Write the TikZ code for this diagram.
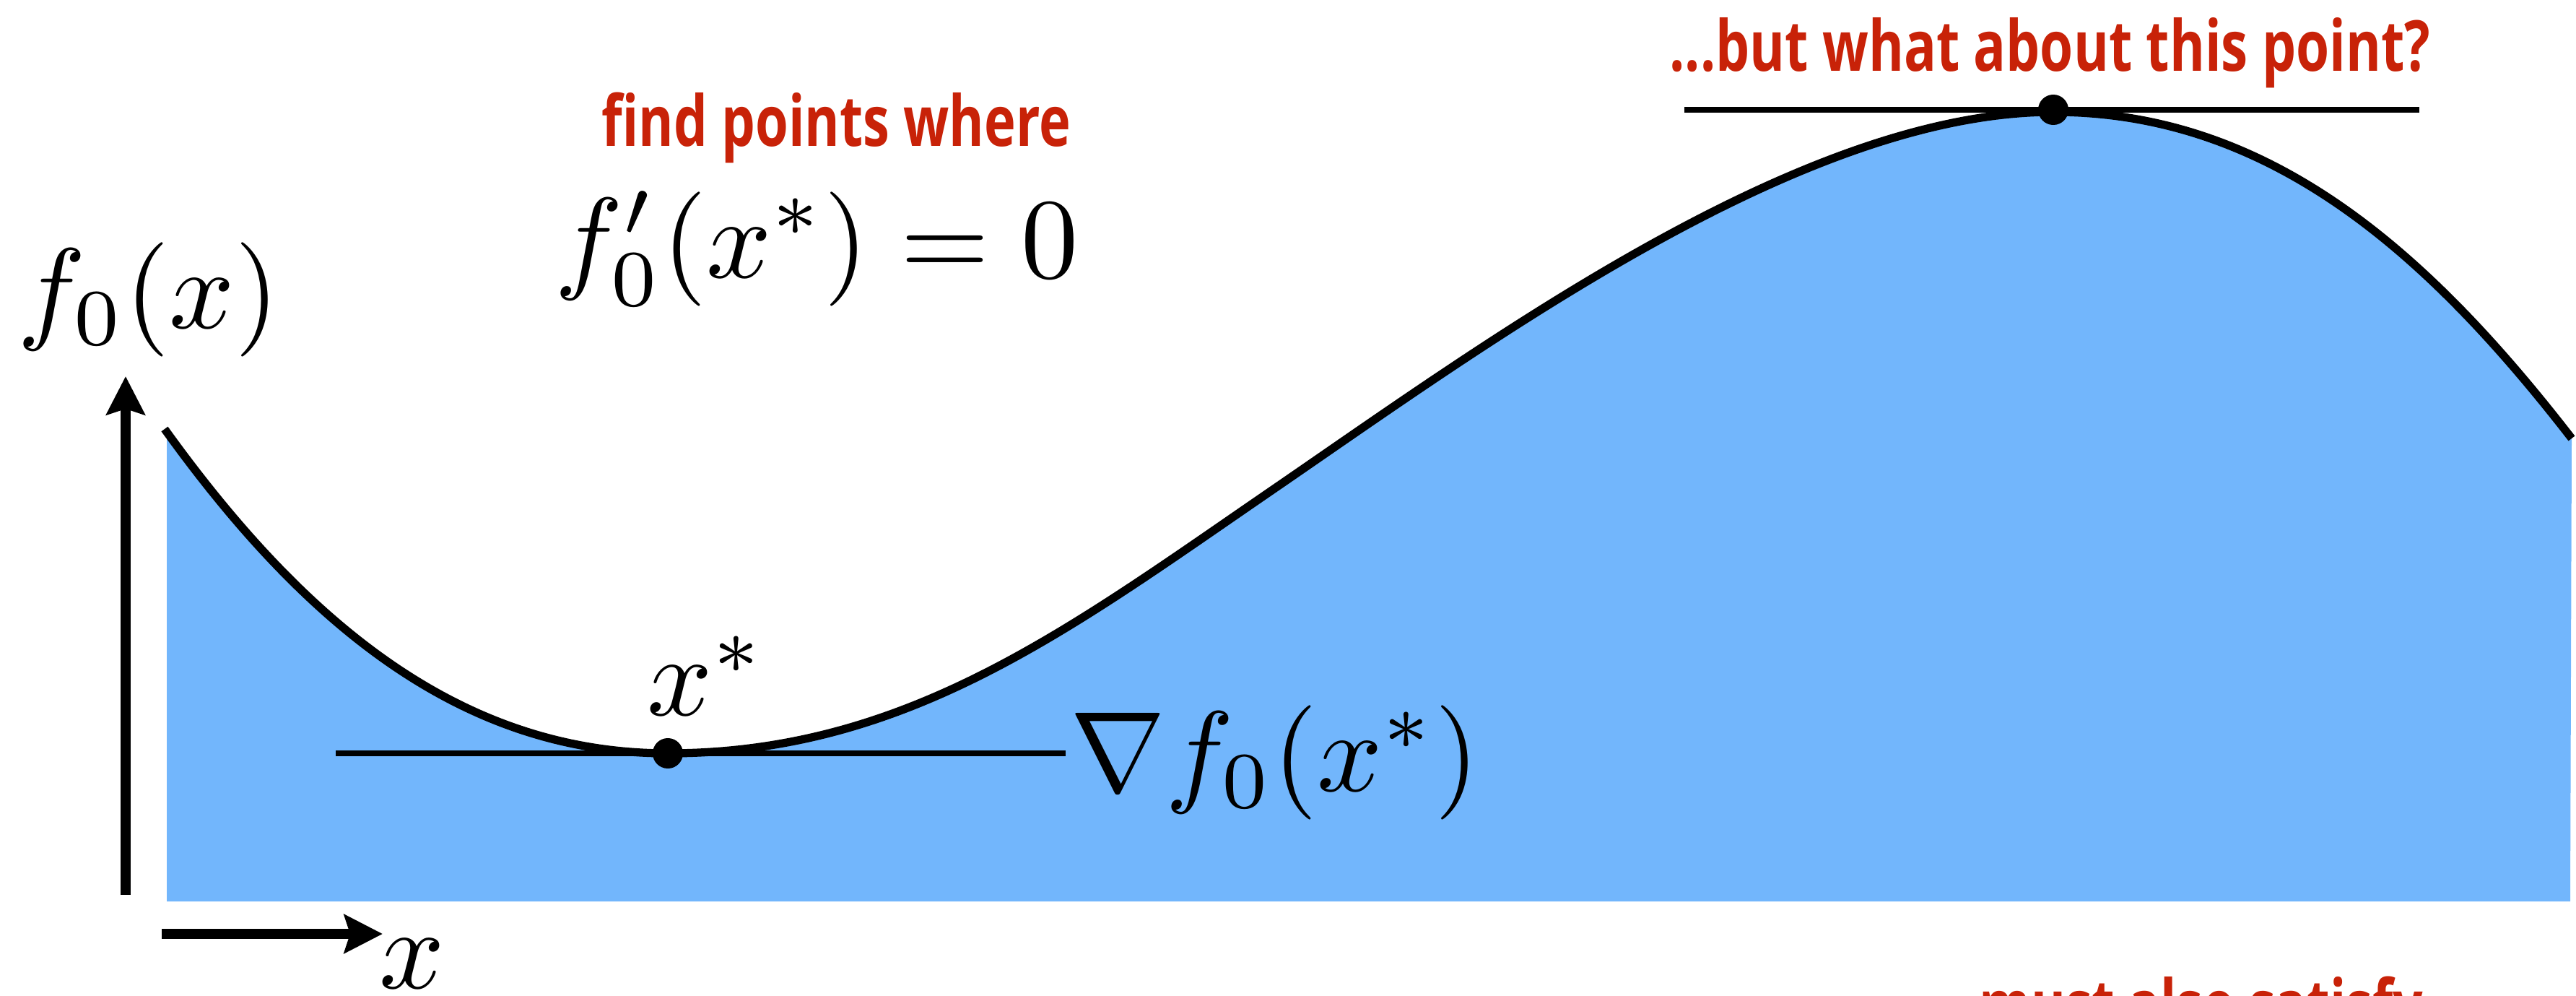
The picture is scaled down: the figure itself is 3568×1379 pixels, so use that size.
\documentclass[tikz,border=0pt]{standalone}
\usepackage{fontspec}
\usepackage{graphicx}
\usetikzlibrary{arrows.meta}
\newfontfamily\redfont{Open Sans}
\definecolor{slidered}{RGB}{200,34,8}
\definecolor{fillblue}{RGB}{114,182,252}
\newcommand{\bigmath}[1]{\scalebox{4.5}{\fontsize{10pt}{12pt}\selectfont$#1$}}
\begin{document}
\begin{tikzpicture}[x=0.01cm,y=-0.01cm,
  mathlbl/.style={inner sep=0pt, anchor=base west},
  redlbl/.style={inner sep=0pt, anchor=base west, text=slidered, font=\redfont\bfseries\fontsize{27.7pt}{33pt}\selectfont},
  curveline/.style={line width=3.2pt, line join=round},
  tangent/.style={line width=2.3pt},
  axisarrow/.style={line width=3.8pt, -{Stealth[length=0.53cm,width=0.53cm,inset=0.08cm]}},
  dotmark/.style={circle, fill=black, inner sep=0pt, minimum size=0.42cm}]
\path[use as bounding box] (0,0) rectangle (3568,1379);
\clip (0,0) rectangle (3568,1379);

% key points of the curve
\coordinate (cStart) at (228,594);
\coordinate (cMin) at (925,1043);
\coordinate (cInf) at (1760,680);
\coordinate (cMax) at (2844,155);
\coordinate (cEnd) at (3562,607);

% filled region under the curve
\fill[fillblue] (231,600) -- (cStart) .. controls (428,872) and (645,1043) .. (cMin)
  .. controls (1255,1043) and (1480,872) .. (cInf)
  .. controls (2060,474.5) and (2494,155) .. (cMax)
  .. controls (3144,155) and (3362,349) .. (cEnd)
  -- (3560,1248) -- (231,1248) -- cycle;

% tangent lines
\coordinate (minL) at (465,1043);
\coordinate (minR) at (1476,1043);
\coordinate (maxL) at (2333,152);
\coordinate (maxR) at (3351,152);
\draw[tangent] (minL) -- (minR);
\draw[tangent] (maxL) -- (maxR);

% curve
\draw[curveline] (cStart) .. controls (428,872) and (645,1043) .. (cMin)
  .. controls (1255,1043) and (1480,872) .. (cInf)
  .. controls (2060,474.5) and (2494,155) .. (cMax)
  .. controls (3144,155) and (3362,349) .. (cEnd);

% points
\node[dotmark] (minpt) at (925,1043) {};
\node[dotmark] (maxpt) at (2844,152) {};

% axes
\coordinate (yaxB) at (174,1239);
\coordinate (yaxT) at (174,521);
\coordinate (xaxL) at (224,1293);
\coordinate (xaxR) at (530,1293);
\draw[axisarrow] (yaxB) -- (yaxT);
\draw[axisarrow] (xaxL) -- (xaxR);

% math labels
\node[mathlbl] (flabel) at (24,454) {\bigmath{f_0(x)}};
\node[mathlbl] (xlabel) at (525,1368) {\bigmath{x}};
\node[mathlbl] (xstar) at (896,990) {\bigmath{x^*}};
\node[mathlbl] (cond) at (768,384) {\bigmath{f_0'(x^*) = 0}};
\node[mathlbl] (grad) at (1482,1095) {\bigmath{\nabla f_0(x^*)}};

% red labels
\node[redlbl] (find) at (833,203) {\resizebox{6.49cm}{\height}{find points where}};
\node[redlbl] (what) at (2312,99) {\resizebox{10.53cm}{\height}{...but what about this point?}};
\node[redlbl] (must) at (2741,1426) {\resizebox{6.14cm}{\height}{must also satisfy}};
\end{tikzpicture}
\end{document}
